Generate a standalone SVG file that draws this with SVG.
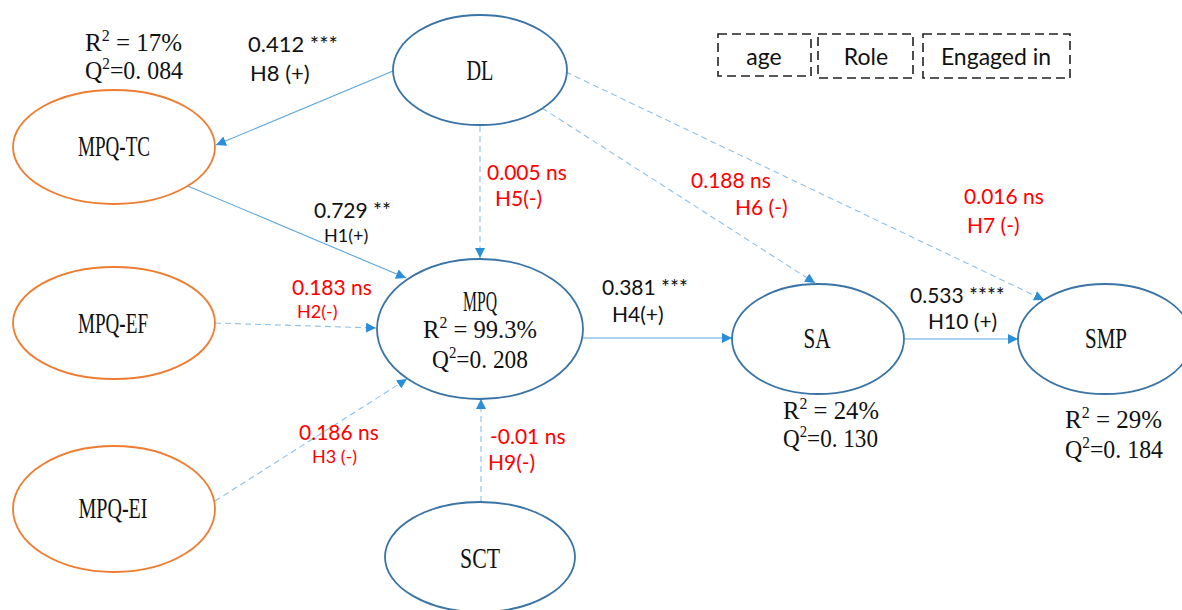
<svg xmlns="http://www.w3.org/2000/svg" width="1182" height="610" viewBox="0 0 1182 610">
<defs>
<marker id="ah" viewBox="0 0 10 10" refX="10" refY="5" markerWidth="10" markerHeight="10" markerUnits="userSpaceOnUse" orient="auto">
<path d="M0,0 L10,5 L0,10 z" fill="#2b8fd8"/>
</marker>
<style>
.blue{fill:#fff;stroke:#3a74a6;stroke-width:1.8}
.orange{fill:#fff;stroke:#ee7d32;stroke-width:1.8}
.node{font-family:"Liberation Serif",serif;font-size:29px;fill:#111;text-anchor:middle}
.stat{font-family:"Liberation Serif",serif;font-size:25px;fill:#111}
.sup{font-size:16px}
.lbl{font-family:Lato,"Liberation Sans",sans-serif;font-size:21px;fill:#111}
.red{font-family:Lato,"Liberation Sans",sans-serif;font-size:21px;fill:#ff0000}
.sm{font-size:18px}
.solid{stroke:#5ba6dd;stroke-width:1.1;fill:none;marker-end:url(#ah)}
.dash{stroke:#8cc0e8;stroke-width:1.1;fill:none;stroke-dasharray:6 4;marker-end:url(#ah)}
.box{fill:none;stroke:#222;stroke-width:1.6;stroke-dasharray:9 5}
</style>
</defs>
<rect width="1182" height="610" fill="#fff"/>
<g id="connectors">
<line class="solid" x1="393" y1="71" x2="216" y2="145"/>
<line class="dash" x1="480" y1="126" x2="480" y2="258"/>
<line class="dash" x1="542" y1="108" x2="815" y2="283"/>
<line class="dash" x1="566" y1="72" x2="1044" y2="300"/>
<line class="solid" x1="183" y1="184" x2="406" y2="278"/>
<line class="dash" x1="215" y1="323" x2="376" y2="328"/>
<line class="dash" x1="215" y1="501" x2="407" y2="379"/>
<line class="dash" x1="481" y1="502" x2="481" y2="399"/>
<line class="solid" x1="583" y1="338" x2="732" y2="338"/>
<line class="solid" x1="905" y1="339" x2="1018" y2="339"/>
</g>
<g id="DL">
<ellipse class="blue" cx="480" cy="70" rx="87" ry="55"/>
<text class="node" x="480" y="80" textLength="27" lengthAdjust="spacingAndGlyphs">DL</text>
</g>
<g id="MPQ-TC">
<ellipse class="orange" cx="114" cy="147" rx="101" ry="57"/>
<text class="node" x="114" y="156" textLength="72" lengthAdjust="spacingAndGlyphs">MPQ-TC</text>
</g>
<g id="MPQ-EF">
<ellipse class="orange" cx="114" cy="323" rx="101" ry="56"/>
<text class="node" x="113" y="333" textLength="70" lengthAdjust="spacingAndGlyphs">MPQ-EF</text>
</g>
<g id="MPQ-EI">
<ellipse class="orange" cx="114" cy="509" rx="101" ry="63"/>
<text class="node" x="113" y="518" textLength="69" lengthAdjust="spacingAndGlyphs">MPQ-EI</text>
</g>
<g id="MPQ">
<ellipse class="blue" cx="480" cy="329" rx="103" ry="70"/>
<text class="node" x="480" y="311" textLength="34" lengthAdjust="spacingAndGlyphs">MPQ</text>
<text class="stat" x="423" y="338" textLength="114" lengthAdjust="spacingAndGlyphs">R<tspan class="sup" dy="-10">2</tspan><tspan dy="10"> = 99.3%</tspan></text>
<text class="stat" x="432" y="368" textLength="96" lengthAdjust="spacingAndGlyphs">Q<tspan class="sup" dy="-10">2</tspan><tspan dy="10">=0. 208</tspan></text>
</g>
<g id="SA">
<ellipse class="blue" cx="818" cy="339" rx="86" ry="55"/>
<text class="node" x="817" y="348" textLength="27" lengthAdjust="spacingAndGlyphs">SA</text>
</g>
<g id="SMP">
<ellipse class="blue" cx="1105" cy="339" rx="87" ry="55"/>
<text class="node" x="1106" y="348" textLength="42" lengthAdjust="spacingAndGlyphs">SMP</text>
</g>
<g id="SCT">
<ellipse class="blue" cx="480" cy="557" rx="95" ry="55"/>
<text class="node" x="480" y="568" textLength="40" lengthAdjust="spacingAndGlyphs">SCT</text>
</g>
<g id="stats">
<text class="stat" x="85" y="51" textLength="97" lengthAdjust="spacingAndGlyphs">R<tspan class="sup" dy="-10">2</tspan><tspan dy="10"> = 17%</tspan></text>
<text class="stat" x="85" y="79" textLength="98" lengthAdjust="spacingAndGlyphs">Q<tspan class="sup" dy="-10">2</tspan><tspan dy="10">=0. 084</tspan></text>
<text class="stat" x="783" y="419" textLength="96" lengthAdjust="spacingAndGlyphs">R<tspan class="sup" dy="-10">2</tspan><tspan dy="10"> = 24%</tspan></text>
<text class="stat" x="783" y="447" textLength="95" lengthAdjust="spacingAndGlyphs">Q<tspan class="sup" dy="-10">2</tspan><tspan dy="10">=0. 130</tspan></text>
<text class="stat" x="1065" y="428" textLength="97" lengthAdjust="spacingAndGlyphs">R<tspan class="sup" dy="-10">2</tspan><tspan dy="10"> = 29%</tspan></text>
<text class="stat" x="1065" y="458" textLength="98" lengthAdjust="spacingAndGlyphs">Q<tspan class="sup" dy="-10">2</tspan><tspan dy="10">=0. 184</tspan></text>
</g>
<g id="path-labels">
<text class="lbl" x="248" y="52" style="font-size:22px">0.412 ***</text>
<text class="lbl" x="250" y="81" style="font-size:22px">H8 (+)</text>
<text class="lbl" x="314" y="218">0.729 **</text>
<text class="lbl sm" x="324" y="242">H1(+)</text>
<text class="lbl" x="602" y="295">0.381 ***</text>
<text class="lbl" x="612" y="322">H4(+)</text>
<text class="lbl" x="910" y="303">0.533 ****</text>
<text class="lbl" x="928" y="329">H10 (+)</text>
<text class="red" x="487" y="180">0.005 ns</text>
<text class="red" x="495" y="206">H5(-)</text>
<text class="red" x="691" y="188">0.188 ns</text>
<text class="red" x="735" y="215">H6 (-)</text>
<text class="red" x="964" y="204">0.016 ns</text>
<text class="red" x="967" y="233">H7 (-)</text>
<text class="red" x="292" y="295">0.183 ns</text>
<text class="red sm" x="297" y="318">H2(-)</text>
<text class="red" x="299" y="440">0.186 ns</text>
<text class="red sm" x="312" y="463">H3 (-)</text>
<text class="red" x="490" y="444">-0.01 ns</text>
<text class="red" x="488" y="470">H9(-)</text>
</g>
<g id="controls">
<rect class="box" x="718" y="34" width="93" height="42"/>
<text class="lbl" x="764" y="65" text-anchor="middle" style="font-size:23px">age</text>
<rect class="box" x="818" y="34" width="95" height="44"/>
<text class="lbl" x="866" y="65" text-anchor="middle" style="font-size:23px">Role</text>
<rect class="box" x="923" y="34" width="147" height="44"/>
<text class="lbl" x="996" y="65" text-anchor="middle" style="font-size:23px">Engaged in</text>
</g>
</svg>
